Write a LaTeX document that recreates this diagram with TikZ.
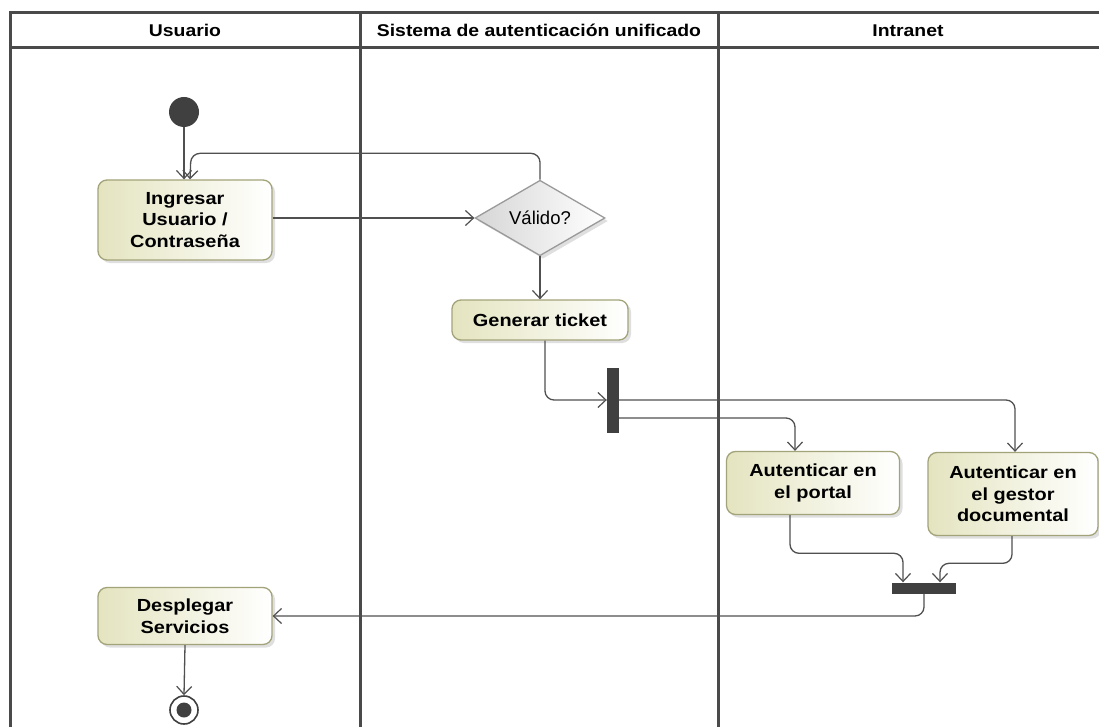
\documentclass[tikz,border=0pt]{standalone}
\usepackage{fontspec}
\setmainfont{Liberation Sans}
\newfontfamily\widesans{Liberation Sans}[FakeStretch=1.14]
\usetikzlibrary{shapes.geometric,arrows.meta,shadows,calc}
\definecolor{laneline}{HTML}{4A4A4A}
\definecolor{actborder}{HTML}{A3A37A}
\definecolor{actfill}{HTML}{E4E4C0}
\definecolor{conncol}{HTML}{505050}
\definecolor{barcol}{HTML}{404040}
\definecolor{decborder}{HTML}{9A9A9A}
\definecolor{decfill}{HTML}{D6D6D6}
\tikzset{
  laneborder/.style={draw=laneline, line width=3pt},
  lanetitle/.style={font=\widesans\fontsize{17}{20}\selectfont\bfseries, anchor=center},
  action/.style={draw=actborder, line width=1.3pt, rounded corners=9pt,
    left color=actfill, right color=white, align=center, inner sep=2pt,
    font=\widesans\fontsize{17.5}{21.5}\selectfont\bfseries,
    drop shadow={shadow xshift=3pt, shadow yshift=-3pt, opacity=0.25, fill=gray}},
  decision/.style={diamond, draw=decborder, line width=1.3pt, left color=decfill, right color=white,
    inner sep=0pt, font=\fontsize{18.5}{21}\selectfont,
    drop shadow={shadow xshift=3pt, shadow yshift=-3pt, opacity=0.25, fill=gray}},
  bar/.style={fill=barcol, draw=none, inner sep=0pt},
  initnode/.style={circle, fill=barcol, inner sep=0pt, minimum size=30pt},
  finalnode/.style={circle, draw=barcol, line width=1.6pt, fill=white, inner sep=0pt, minimum size=28pt},
  conn/.style={draw=conncol, line width=1.3pt, rounded corners=9pt,
    -{Straight Barb[length=8pt,width=15pt,line width=1.2pt]}},
}
\begin{document}
\begin{tikzpicture}[x=1pt,y=-1pt]
\useasboundingbox (0,0) rectangle (1099,727);
\fill[white] (0,0) rectangle (1099,727);

% swimlane frame
\coordinate (tl) at (10,13);
\coordinate (tr) at (1099,13);
\coordinate (hl) at (10,48);
\coordinate (hr) at (1099,48);
\coordinate (bl) at (10,727);
\coordinate (s1t) at (360,13);
\coordinate (s1b) at (360,727);
\coordinate (s2t) at (718,13);
\coordinate (s2b) at (718,727);
\draw[laneborder] (tr) -- (tl) -- (bl);
\draw[laneborder] (hl) -- (hr);
\draw[laneborder] (s1t) -- (s1b);
\draw[laneborder] (s2t) -- (s2b);
\node[lanetitle] (t1) at (185,30.5) {Usuario};
\node[lanetitle] (t2) at (539,30.5) {Sistema de autenticación unificado};
\node[lanetitle] (t3) at (908,30.5) {Intranet};

% nodes
\node[initnode] (init) at (184,112) {};
\node[action, minimum width=174pt, minimum height=80pt] (ing) at (185,220) {Ingresar\\Usuario /\\Contraseña};
\node[decision, minimum width=130pt, minimum height=67pt] (val) at (540,218) {Válido?};
\node[action, minimum width=176pt, minimum height=40pt] (gen) at (540,320) {Generar ticket};
\node[bar, minimum width=12pt, minimum height=65pt] (fork) at (613,400) {};
\node[action, minimum width=173pt, minimum height=63pt] (portal) at (813,483) {Autenticar en\\el portal};
\node[action, minimum width=170pt, minimum height=83pt] (gestor) at (1013,494) {Autenticar en\\el gestor\\documental};
\node[bar, minimum width=64pt, minimum height=11pt] (join) at (924,588) {};
\node[action, minimum width=174pt, minimum height=57pt] (desp) at (185,616) {Desplegar\\Servicios};
\node[finalnode] (fin) at (184,710) {};
\node[circle, fill=barcol, inner sep=0pt, minimum size=15pt] (findot) at (fin.center) {};

% connectors
\draw[conn] (init) -- (init |- ing.north);
\draw[conn] (val.north) |- ([xshift=6pt,yshift=26pt]ing.north) -- ([xshift=5pt]ing.north);
\draw[conn] (ing.east |- val.west) -- (val.west);
\draw[conn] (val.south) -- (gen.north);
\draw[conn] ([xshift=5pt]gen.south) |- (fork.west);
\draw[conn] (fork.east) -| ([xshift=2pt]gestor.north);
\draw[conn] ([yshift=-18pt]fork.east) -| ([xshift=-18pt]portal.north);
\draw[conn] ([xshift=-23pt]portal.south) |- ([xshift=-21pt,yshift=29pt]join.north) -- ([xshift=-21pt]join.north);
\draw[conn] ([xshift=-1pt]gestor.south) |- ([xshift=16pt,yshift=19pt]join.north) -- ([xshift=16pt]join.north);
\draw[conn] (join.south) |- (desp.east);
\draw[conn] (desp.south) -- (fin.north);
\end{tikzpicture}
\end{document}
